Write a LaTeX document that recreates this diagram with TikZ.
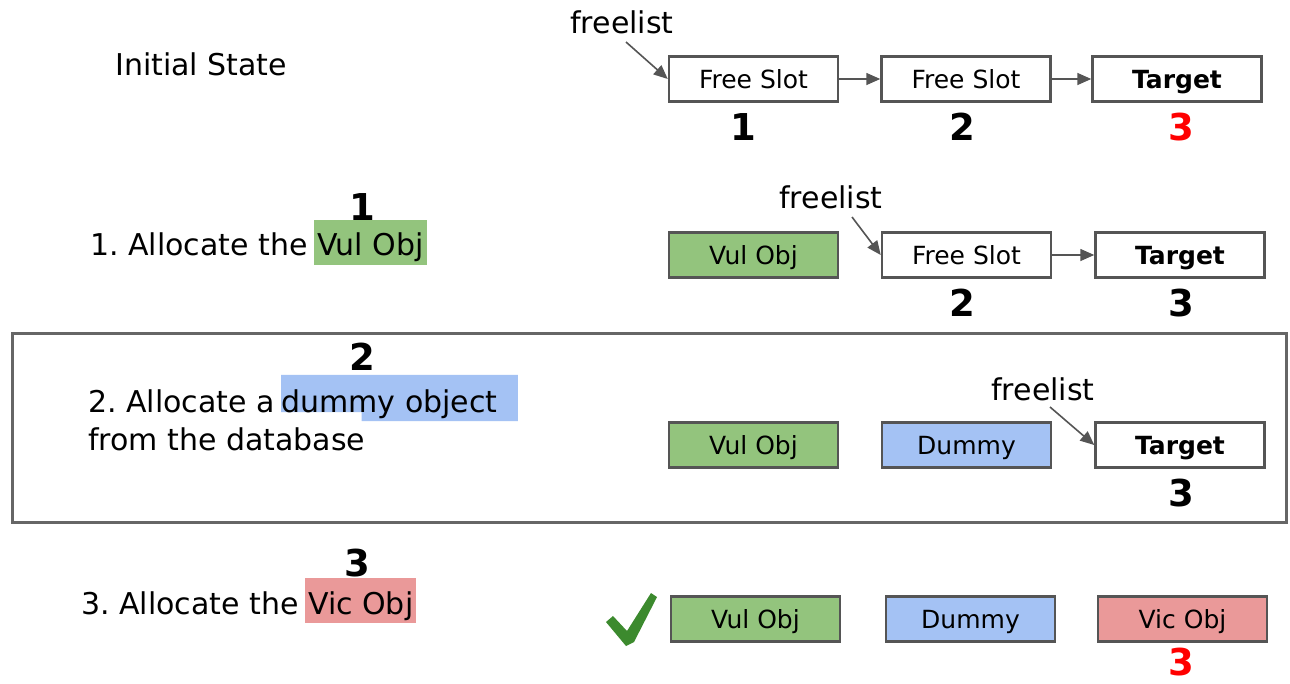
\documentclass[tikz,border=0pt]{standalone}
\usepackage{fontspec}
\setmainfont{DejaVu Sans}
\usetikzlibrary{arrows.meta,calc,backgrounds}
\definecolor{vulgreen}{HTML}{93C47D}
\definecolor{dumblue}{HTML}{A4C2F4}
\definecolor{vicred}{HTML}{EA9999}
\definecolor{edgegray}{HTML}{555555}
\definecolor{framegray}{HTML}{666666}
\definecolor{numred}{HTML}{FF0000}
\definecolor{checkgreen}{HTML}{3C8A2E}
\frenchspacing
\begin{document}
\begin{tikzpicture}[x=1pt,y=-1pt,
 slot/.style={draw=edgegray, line width=2.5pt, minimum width=169pt, minimum height=45pt, inner sep=0pt, text height=23pt, text depth=5pt, font=\fontsize{25}{30}\selectfont, text=black},
 ptr/.style={draw=edgegray, line width=1.6pt, -{Triangle[length=14pt,width=12pt]}},
 lbl/.style={font=\fontsize{30}{36}\selectfont, inner sep=0pt},
 num/.style={font=\fontsize{37}{40}\selectfont\bfseries, inner sep=0pt},
 hl/.style={font=\fontsize{30}{36}\selectfont, inner xsep=3pt, inner ysep=0pt},
 stepframe/.style={draw=framegray, line width=3pt}
]
\begin{scope}[on background layer]
\fill[white] (0,0) rectangle (1290,683);
\end{scope}
\useasboundingbox (0,0) rectangle (1290,683);

% ---------- Initial state ----------
\node[lbl, anchor=west] (init) at (115,64) {Initial State};
\node[slot] (s1) at (753.5,79) {Free Slot};
\node[slot] (s2) at (966,79) {Free Slot};
\node[slot] (t0) at (1177,79) {\bfseries Target};
\node[lbl] (fl0) at (622,22) {freelist};
\coordinate (fl0s) at (626,42);
\draw[ptr] (fl0s) -- (s1.west);
\draw[ptr] (s1) -- (s2);
\draw[ptr] (s2) -- (t0);
\node[num] (n01) at (743,127) {1};
\node[num] (n02) at (962,127) {2};
\node[num, text=numred] (n03) at (1181,127) {3};

% ---------- Step 1 ----------
\node[lbl, anchor=base west] (a1) at (90,255) {1. Allocate the};
\node[hl, fill=vulgreen, text height=35pt, text depth=10pt, anchor=base west] (h1) at ([xshift=6pt]a1.base east) {Vul Obj};
\node[num] (n1) at (362,207) {1};
\node[slot, fill=vulgreen] (v1) at (753.5,255) {Vul Obj};
\node[slot] (f1) at (966.5,255) {Free Slot};
\node[slot] (t1) at (1180,255) {\bfseries Target};
\node[lbl] (fl1) at (831,197) {freelist};
\coordinate (fl1s) at (852,217);
\draw[ptr] (fl1s) -- (f1.west);
\draw[ptr] (f1) -- (t1);
\node[num] (n12) at (962,303) {2};
\node[num] (n13) at (1181,303) {3};

% ---------- Step 2 ----------
\draw[stepframe] (12,333) rectangle (1286,522);
\node[num] (n2) at (362,357) {2};
\node[lbl, anchor=base west] (a2) at (88,412) {2. Allocate a};
\node[hl, text height=37pt, text depth=9pt, anchor=base west, inner xsep=0pt] (h2) at ([xshift=6pt]a2.base east) {dummy object\kern20pt\null};
\begin{scope}[on background layer]
\fill[dumblue] (h2.north west) -- (h2.north east) -- (h2.south east)
  -- ($(h2.south west)!0.34!(h2.south east)$)
  -- ($(h2.base west)!0.34!(h2.base east)$)
  -- (h2.base west) -- cycle;
\end{scope}
\node[lbl, anchor=base west] (b2) at (88,450) {from the database};
\node[slot, fill=vulgreen] (v2) at (753.5,445) {Vul Obj};
\node[slot, fill=dumblue] (d2) at (966.5,445) {Dummy};
\node[slot] (t2) at (1180,445) {\bfseries Target};
\node[lbl] (fl2) at (1043,389) {freelist};
\coordinate (fl2s) at (1050,407);
\draw[ptr] (fl2s) -- (t2.west);
\node[num] (n23) at (1181,493) {3};

% ---------- Step 3 ----------
\node[num] (n3) at (357,563) {3};
\node[lbl, anchor=base west] (a3) at (81,614) {3. Allocate the};
\node[hl, fill=vicred, text height=36pt, text depth=9pt, anchor=base west] (h3) at ([xshift=6pt]a3.base east) {Vic Obj};
\fill[checkgreen, line join=round] (606,622) -- (613,616) -- (627,631) -- (651,593) -- (657,597)
  -- (634,642) -- (626,646) -- cycle;
\node[slot, fill=vulgreen] (v3) at (755.5,619) {Vul Obj};
\node[slot, fill=dumblue] (d3) at (970.5,619) {Dummy};
\node[slot, fill=vicred] (c3) at (1182.5,619) {Vic Obj};
\node[num, text=numred] (n33) at (1181,662) {3};
\end{tikzpicture}
\end{document}
